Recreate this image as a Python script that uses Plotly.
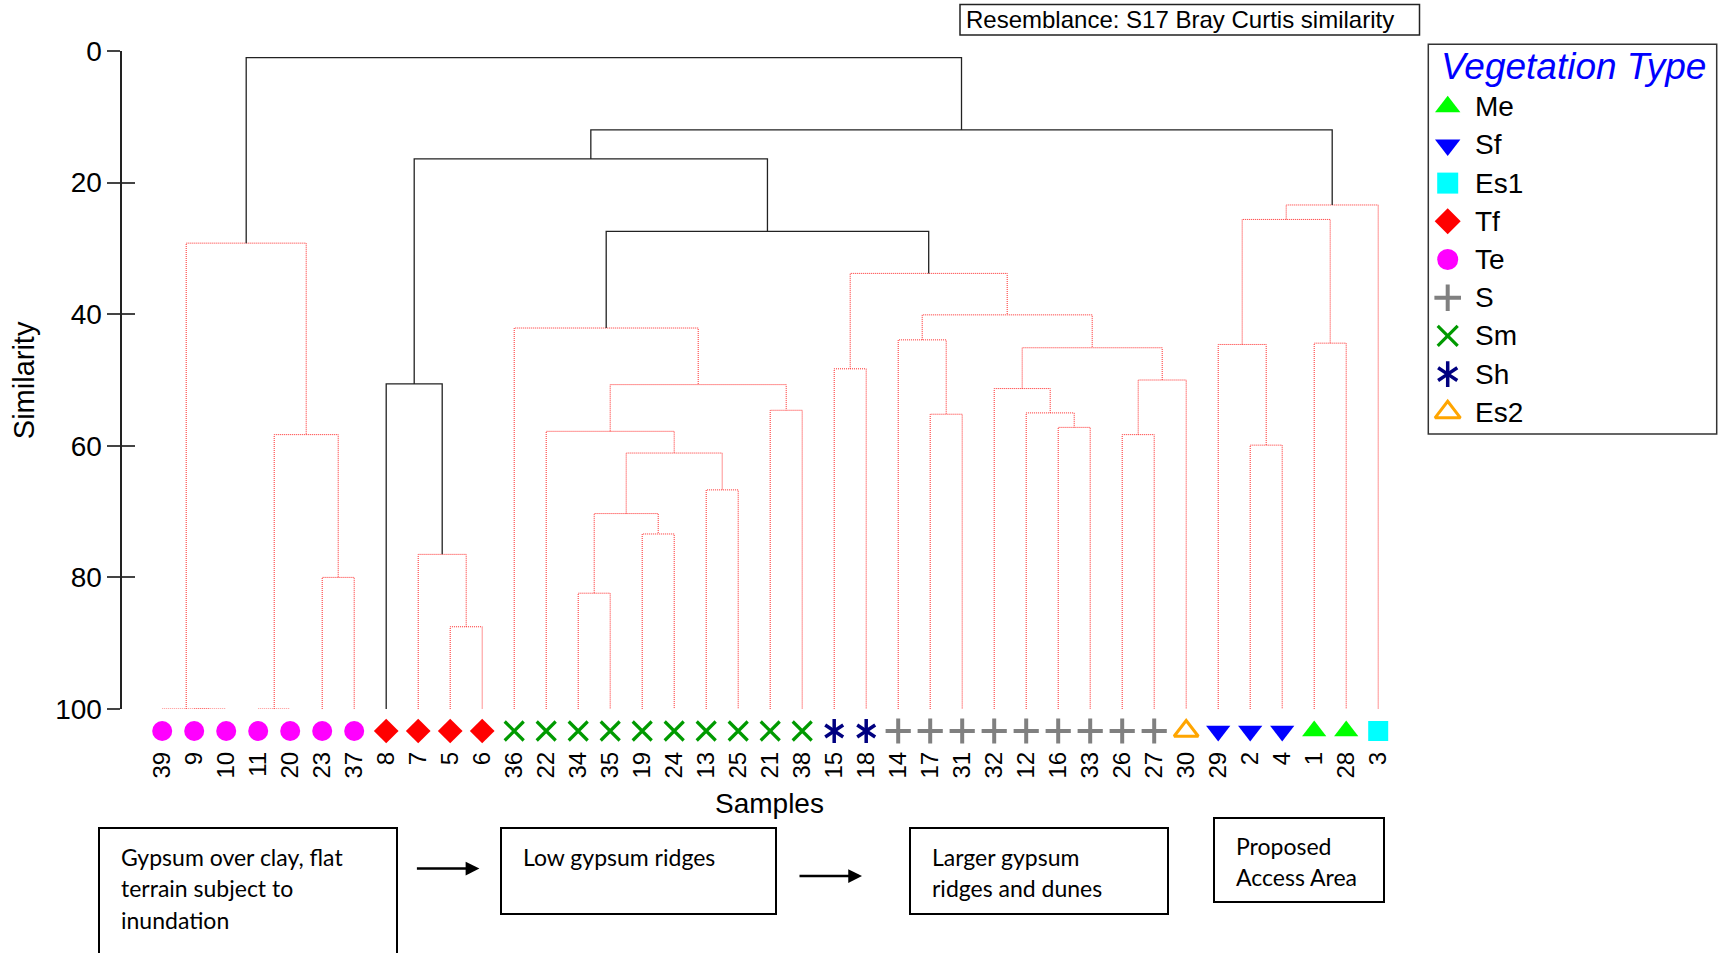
import plotly.graph_objects as go

W, H = 1724, 953

# ---------------- data ----------------
sample_labels = ["39", "9", "10", "11", "20", "23", "37", "8", "7", "5", "6",
                 "36", "22", "34", "35", "19", "24", "13", "25", "21", "38",
                 "15", "18", "14", "17", "31", "32", "12", "16", "33", "26",
                 "27", "30", "29", "2", "4", "1", "28", "3"]
sample_types = ["Te", "Te", "Te", "Te", "Te", "Te", "Te", "Tf", "Tf", "Tf", "Tf",
                "Sm", "Sm", "Sm", "Sm", "Sm", "Sm", "Sm", "Sm", "Sm", "Sm",
                "Sh", "Sh", "S", "S", "S", "S", "S", "S", "S", "S",
                "S", "Es2", "Sf", "Sf", "Sf", "Me", "Me", "Es1"]

# merges m1..m38 (children are sample labels or earlier merges)
merge_left = ["9", "39", "11", "23", "m3", "m2", "5", "7", "8", "34",
              "19", "m10", "13", "m12", "22", "21", "m15", "36", "15", "17",
              "14", "16", "12", "32", "26", "m25", "m24", "m21", "m19", "m18",
              "m9", "2", "29", "1", "m33", "m35", "m31", "m6"]
merge_right = ["10", "m1", "20", "37", "m4", "m5", "6", "m7", "m8", "35",
               "24", "m11", "25", "m13", "m14", "38", "m16", "m17", "18", "31",
               "m20", "33", "m22", "m23", "27", "30", "m26", "m27", "m28", "m29",
               "m30", "4", "m32", "28", "m34", "3", "m36", "m37"]
merge_similarity = [100.0, 100.0, 100.0, 80.0, 58.3, 29.2, 87.5, 76.5, 50.6, 82.4,
                    73.4, 70.3, 66.7, 61.1, 57.8, 54.6, 50.7, 42.1, 48.3, 55.2,
                    43.9, 57.2, 55.0, 51.3, 58.3, 50.0, 45.1, 40.1, 33.8, 27.4,
                    16.4, 59.9, 44.6, 44.4, 25.6, 23.4, 12.0, 1.0]
merge_significant = [False, False, False, False, False, False, False, False, True, False,
                     False, False, False, False, False, False, False, False, False, False,
                     False, False, False, False, False, False, False, False, False, True,
                     True, False, False, False, False, False, True, True]

veg_types = ["Me", "Sf", "Es1", "Tf", "Te", "S", "Sm", "Sh", "Es2"]
y_ticks = [0, 20, 40, 60, 80, 100]

resemblance_text = "Resemblance: S17 Bray Curtis similarity"
legend_title = "Vegetation Type"
x_title = "Samples"
y_title = "Similarity"
habitat_lines = [["Gypsum over clay, flat", "terrain subject to", "inundation"],
                 ["Low gypsum ridges"],
                 ["Larger gypsum", "ridges and dunes"],
                 ["Proposed", "Access Area"]]

# ---------------- styles ----------------
# symbols given as lists are overlaid (six-armed asterisk = y-up + y-down)
veg_style = {
    "Me": dict(symbol=["triangle-up"], color="#00FF00", size=21, lw=0),
    "Sf": dict(symbol=["triangle-down"], color="#0000FF", size=21, lw=0),
    "Es1": dict(symbol=["square"], color="#00FFFF", size=20, lw=0),
    "Tf": dict(symbol=["diamond"], color="#FF0000", size=19, lw=0),
    "Te": dict(symbol=["circle"], color="#FF00FF", size=20, lw=0),
    "S": dict(symbol=["cross-thin"], color="#808080", size=18, lw=4),
    "Sm": dict(symbol=["x-thin"], color="#009A00", size=19, lw=3.2),
    "Sh": dict(symbol=["y-up", "y-down"], color="#000080", size=15, lw=3.5),
    "Es2": dict(symbol=["triangle-up-open"], color="#FFA500", size=21, lw=3),
}
FONT = "Liberation Sans, Arial, sans-serif"
BOXFONT = "Lato, Open Sans, sans-serif"


def px(x):
    return x / W


def py(y):
    return 1 - y / H


# ---------------- dendrogram geometry ----------------
node_x = {lab: float(i) for i, lab in enumerate(sample_labels)}
node_h = {lab: 100.0 for lab in sample_labels}
red_x, red_y, blk_x, blk_y = [], [], [], []
for k, (l, r, h, sig) in enumerate(zip(merge_left, merge_right, merge_similarity, merge_significant)):
    xl, xr = node_x[l], node_x[r]
    tx, ty = (blk_x, blk_y) if sig else (red_x, red_y)
    tx.extend([xl, xl, xr, xr, None])
    ty.extend([node_h[l], h, h, node_h[r], None])
    mid = "m%d" % (k + 1)
    node_x[mid] = (xl + xr) / 2
    node_h[mid] = h

fig = go.Figure()
fig.add_trace(go.Scatter(x=red_x, y=red_y, mode="lines", showlegend=False, hoverinfo="skip",
                         line=dict(color="rgb(255,40,40)", width=1, dash="1px,1px")))
fig.add_trace(go.Scatter(x=blk_x, y=blk_y, mode="lines", showlegend=False, hoverinfo="skip",
                         line=dict(color="#222222", width=1.3)))

# leaf markers on their own thin axis strip (y3) below the tree
for t in veg_types:
    st = veg_style[t]
    idx = [i for i, s in enumerate(sample_types) if s == t]
    for sym in st["symbol"]:
        fig.add_trace(go.Scatter(
            x=idx, y=[0] * len(idx), xaxis="x", yaxis="y3", mode="markers", name=t,
            showlegend=False, cliponaxis=False, hoverinfo="skip",
            marker=dict(symbol=sym, color=st["color"], size=st["size"],
                        line=dict(color=st["color"], width=st["lw"]))))

# custom legend: one row per vegetation type (x4/y4 strip)
for k, t in enumerate(veg_types):
    st = veg_style[t]
    for sym in st["symbol"]:
        fig.add_trace(go.Scatter(
            x=[0], y=[k], xaxis="x4", yaxis="y4", mode="markers", showlegend=False,
            cliponaxis=False, hoverinfo="skip",
            marker=dict(symbol=sym, color=st["color"], size=st["size"] + 1,
                        line=dict(color=st["color"], width=st["lw"]))))

# dummy trace to activate yaxis2 (inner tick marks)
fig.add_trace(go.Scatter(x=[None], y=[None], yaxis="y2", showlegend=False, hoverinfo="skip"))

# ---------------- layout ----------------
x0_px, x1_px = 122.2, 1402.2
row_top, row_gap = 106.7, 38.2
n_rows = len(veg_types)
fig.update_layout(
    width=W, height=H, margin=dict(l=0, r=0, t=0, b=0, autoexpand=False),
    paper_bgcolor="white", plot_bgcolor="rgba(0,0,0,0)", showlegend=False,
    font=dict(family=FONT, color="black"),
    xaxis=dict(domain=[px(x0_px), px(x1_px)], range=[-1.25, 38.75],
               anchor="free", position=py(746), automargin=False,
               tickmode="array", tickvals=list(range(len(sample_labels))), ticktext=sample_labels,
               tickangle=-90, tickfont=dict(size=24, family=FONT),
               showgrid=False, zeroline=False, showline=False, ticks=""),
    yaxis=dict(domain=[py(709), py(51)], range=[100, 0], anchor="x", automargin=False,
               tickmode="array", tickvals=y_ticks, ticks="outside", ticklen=13, tickwidth=2,
               tickcolor="#444444", showline=True, linecolor="#222222", linewidth=1.5,
               tickfont=dict(size=28, family=FONT), showgrid=False, zeroline=False),
    yaxis2=dict(overlaying="y", anchor="x", side="left", range=[100, 0], automargin=False,
                tickmode="array", tickvals=y_ticks, ticks="inside", ticklen=13, tickwidth=2,
                tickcolor="#444444", showticklabels=False, showline=False,
                showgrid=False, zeroline=False),
    yaxis3=dict(domain=[py(746), py(716)], range=[-1, 1], anchor="x", visible=False),
    xaxis4=dict(domain=[px(1432.7), px(1462.7)], range=[-1, 1], anchor="y4", visible=False),
    yaxis4=dict(domain=[py(row_top + (n_rows - 0.5) * row_gap), py(row_top - 0.5 * row_gap)],
                range=[n_rows - 0.5, -0.5], anchor="x4", visible=False),
)

annotations = [
    dict(text=y_title, x=px(24.2), y=py(380), xref="paper", yref="paper", showarrow=False,
         textangle=-90, font=dict(size=29, family=FONT), xanchor="center", yanchor="middle"),
    dict(text=x_title, x=px(769.6), y=py(803), xref="paper", yref="paper", showarrow=False,
         font=dict(size=28, family=FONT), xanchor="center", yanchor="middle"),
    dict(text=resemblance_text, x=px(964), y=py(19.7), xref="paper", yref="paper",
         showarrow=False, font=dict(size=24, family=FONT), xanchor="left", yanchor="middle"),
    dict(text=legend_title, x=px(1573.7), y=py(66.7), xref="paper", yref="paper",
         showarrow=False, xanchor="center", yanchor="middle",
         font=dict(size=37, family=FONT, color="#0000FF", style="italic")),
]
for k, t in enumerate(veg_types):
    annotations.append(dict(text=t, x=px(1473), y=k, xref="paper", yref="y4", showarrow=False,
                            xanchor="left", yanchor="middle",
                            font=dict(size=28, family=FONT, color="black")))

shapes = [
    dict(type="rect", xref="paper", yref="paper", x0=px(960), x1=px(1419.5), y0=py(35), y1=py(4.4),
         line=dict(color="#222222", width=1.5)),
    dict(type="rect", xref="paper", yref="paper", x0=px(1428.3), x1=px(1716.7), y0=py(434), y1=py(44.3),
         line=dict(color="#333333", width=1.5)),
]

# habitat boxes: (left, top, right, bottom) and text start
box_geom = [(99, 828, 397, 960), (501, 828, 776, 914), (910, 828, 1168, 914), (1214, 818, 1384, 902)]
text_start = [(119, 856.5), (521, 856.5), (930, 856.5), (1234, 845.5)]
line_gap = 31.9
for (l, t, r, b), (tx0, ty0), lines in zip(box_geom, text_start, habitat_lines):
    shapes.append(dict(type="rect", xref="paper", yref="paper", x0=px(l), x1=px(r), y0=py(b), y1=py(t),
                       line=dict(color="black", width=2)))
    for j, s in enumerate(lines):
        annotations.append(dict(text=s, x=px(tx0), y=py(ty0 + j * line_gap), xref="paper", yref="paper",
                                showarrow=False, xanchor="left", yanchor="middle",
                                font=dict(size=23, family=BOXFONT, color="black")))

# arrows between boxes
for (hx, hy, length) in [(479.4, 868.6, 64), (862, 876, 64)]:
    annotations.append(dict(x=px(hx), y=py(hy), xref="paper", yref="paper", ax=-length, ay=0,
                            text="", showarrow=True, arrowhead=2, arrowsize=1.1, arrowwidth=2.5,
                            arrowcolor="black"))

fig.update_layout(annotations=annotations, shapes=shapes)
fig.write_html("out.html", config={"displayModeBar": False},
               post_script="document.body.style.margin='0px';document.body.style.overflow='hidden';")
